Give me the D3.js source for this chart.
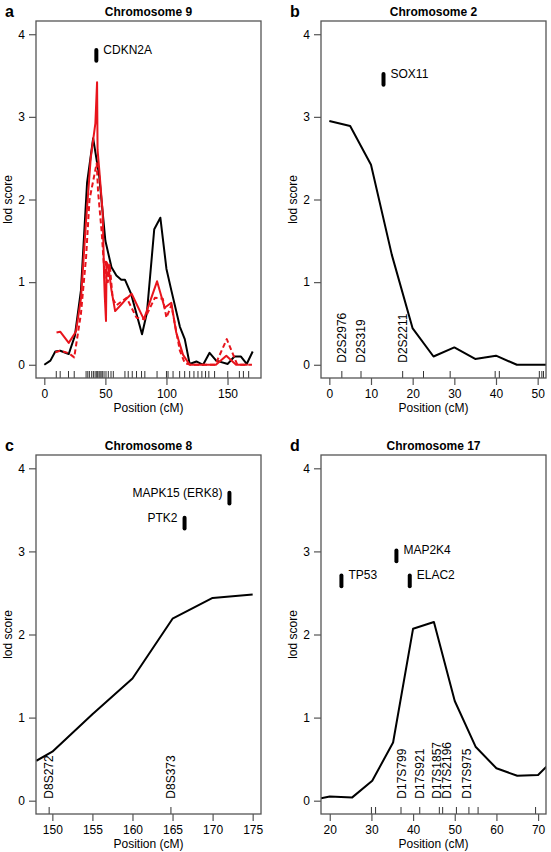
<!DOCTYPE html>
<html><head><meta charset="utf-8">
<script src="https://cdn.jsdelivr.net/npm/d3@7"></script>
<style>
body{margin:0;background:#fff}
svg{display:block}
text{font-family:"Liberation Sans",Arial,Helvetica,sans-serif;fill:#000}
</style>
</head><body>
<svg id="chart" width="551" height="852"></svg>
<script>
// ---------- DATA ----------
const lodTicks = [0, 1, 2, 3, 4];

// Chromosome 9 (panel a)
const chr9XTicks = [0, 50, 100, 150];
const chr9Black = [[0,0],[5,0.05],[9,0.16],[13,0.17],[20,0.13],[25,0.35],[30,0.9],[35,2.2],[40,2.74],[45,2.28],[50,1.5],[55,1.18],[59,1.08],[63,1.03],[66,1.03],[71,0.86],[80,0.37],[84,0.63],[90,1.64],[95,1.78],[100,1.16],[104,0.9],[111,0.46],[115,0.31],[119,0.01],[124.5,0.04],[130,0],[135.3,0.145],[140.7,0.05],[150.2,0.01],[155.6,0.1],[161,0.1],[165.7,0.01],[170.6,0.16]];
const chr9RedSolid = [[10,0.39],[13,0.40],[20,0.265],[24.5,0.37],[26,0.41],[30,0.8],[34,1.7],[38,2.5],[41.8,2.92],[43.2,3.42],[43.6,2.6],[45,2.36],[47.8,1.84],[49,1.04],[49.5,0.83],[50.5,0.53],[51,1.24],[52.4,1.2],[55,0.9],[58,0.65],[63,0.73],[66,0.78],[71.5,0.86],[81.5,0.55],[92.3,1.01],[98.5,0.69],[104,0.75],[108,0.39],[113.6,0.12],[119,0],[140.5,0],[149,0.11],[157,0],[166.5,0]];
const chr9RedDashed = [[9,0.15],[13,0.17],[20,0.14],[24.5,0.09],[30,0.62],[34.2,1.3],[37,2.0],[42.9,2.44],[44,2.1],[47,1.6],[49.5,1.05],[50.5,1.26],[52,1.0],[53.5,1.22],[56,0.8],[59,0.72],[67.4,0.81],[75.5,0.57],[82,0.55],[90.5,0.81],[97,0.8],[100,0.57],[104,0.72],[111,0.17],[115,0.02],[120,0],[140,0],[149.4,0.31],[158,0],[170,0]];
const chr9Markers = [9.8,13,19.8,24.5,34.2,35.6,36.9,38.8,40.2,41.6,42.9,43.7,44.8,45.6,46.5,47.5,48.9,50.5,52.4,54.6,56.5,66,68.7,72,75.5,79.6,82.3,92.3,100,101.3,105.4,110.8,114.9,119,122.5,125.8,129,132,134.7,139.4,150.2,159.7,163,167.3];
const chr9MarkerNames = [];
const chr9Genes = [{name:"CDKN2A", pos:42.6, lod:3.745, side:"right"}];

// Chromosome 2 (panel b)
const chr2XTicks = [0, 10, 20, 30, 40, 50];
const chr2Lod = [[0,2.95],[5,2.89],[10,2.42],[15,1.33],[20,0.44],[25,0.1],[30,0.21],[35,0.07],[40,0.11],[45,0],[55,0]];
const chr2Markers = [3.0,7.6,17.6,22.6,29,39.8,40.8,50.4,51,51.4];
const chr2MarkerNames = [{name:"D2S2976", pos:3.0},{name:"D2S319", pos:7.6},{name:"D2S2211", pos:17.6}];
const chr2Genes = [{name:"SOX11", pos:13, lod:3.455, side:"right"}];

// Chromosome 8 (panel c)
const chr8XTicks = [150, 155, 160, 165, 170, 175];
const chr8Lod = [[148,0.48],[150,0.59],[155,1.04],[160,1.47],[165,2.19],[170,2.44],[175,2.48]];
const chr8Markers = [149.6,164.8];
const chr8MarkerNames = [{name:"D8S272", pos:149.6},{name:"D8S373", pos:164.8}];
const chr8Genes = [{name:"MAPK15 (ERK8)", pos:172.1, lod:3.64, side:"left"},{name:"PTK2", pos:166.5, lod:3.34, side:"left"}];

// Chromosome 17 (panel d)
const chr17XTicks = [20, 30, 40, 50, 60, 70];
const chr17Lod = [[17.9,0.03],[20,0.05],[25.4,0.04],[30.2,0.24],[35.2,0.7],[40,2.07],[45,2.15],[50,1.2],[55,0.65],[60,0.39],[65,0.3],[70,0.31],[72,0.41]];
const chr17Markers = [30,31,37.1,41.6,46.3,47.1,50.4,53.4,55.6,69.4];
const chr17MarkerNames = [{name:"D17S799", pos:37.3},{name:"D17S921", pos:41.6},{name:"D17S1857", pos:45.8},{name:"D17S2196", pos:48.0},{name:"D17S975", pos:52.9}];
const chr17Genes = [{name:"TP53", pos:22.8, lod:2.645, side:"right"},{name:"MAP2K4", pos:36, lod:2.945, side:"right"},{name:"ELAC2", pos:39.2, lod:2.645, side:"right"}];

// ---------- DRAWING ----------
const RED = "#e8141c";
const svg = d3.select("#chart");

const panels = [
  {letter:"a", title:"Chromosome 9", box:[36,261,21,378], xDomain:[-6.8,177.4], xTicks:chr9XTicks,
   lines:[{data:chr9Black,color:"#000"},{data:chr9RedSolid,color:RED},{data:chr9RedDashed,color:RED,dash:"5,3"}],
   rug:chr9Markers, names:chr9MarkerNames, genes:chr9Genes},
  {letter:"b", title:"Chromosome 2", box:[321,546,21,378], xDomain:[-2,52], xTicks:chr2XTicks,
   lines:[{data:chr2Lod,color:"#000"}], rug:chr2Markers, names:chr2MarkerNames, genes:chr2Genes},
  {letter:"c", title:"Chromosome 8", box:[36,261,455,814], xDomain:[147.96,176.04], xTicks:chr8XTicks,
   lines:[{data:chr8Lod,color:"#000"}], rug:chr8Markers, names:chr8MarkerNames, genes:chr8Genes},
  {letter:"d", title:"Chromosome 17", box:[321,546,455,814], xDomain:[17.9,71.9], xTicks:chr17XTicks,
   lines:[{data:chr17Lod,color:"#000"}], rug:chr17Markers, names:chr17MarkerNames, genes:chr17Genes}
];

const defs = svg.append("defs");

panels.forEach(p => {
  const [x0, x1, y0, y1] = p.box;
  const x = d3.scaleLinear().domain(p.xDomain).range([x0, x1]);
  const y = d3.scaleLinear().domain([-0.16, 4.16]).range([y1, y0]);
  const g = svg.append("g");
  const clipId = "clip-" + p.letter;
  defs.append("clipPath").attr("id", clipId).append("rect")
    .attr("x", x0).attr("y", y0).attr("width", x1 - x0).attr("height", y1 - y0);

  // marker labels (rotated)
  g.selectAll(null).data(p.names).join("text")
    .attr("transform", d => `translate(${x(d.pos)},${y(0) - 2}) rotate(-90)`)
    .attr("dy", "0.35em")
    .attr("text-anchor", "start")
    .style("font-size", "12px")
    .text(d => d.name);

  // lines
  const line = d3.line().x(d => x(d[0])).y(d => y(d[1]));
  const lg = g.append("g").attr("clip-path", `url(#${clipId})`);
  p.lines.forEach(l => {
    lg.append("path").datum(l.data)
      .attr("d", line)
      .attr("fill", "none")
      .attr("stroke", l.color)
      .attr("stroke-width", 2)
      .attr("stroke-linejoin", "round")
      .attr("stroke-dasharray", l.dash || null);
  });

  // rug
  g.selectAll(null).data(p.rug).join("line")
    .attr("x1", d => x(d)).attr("x2", d => x(d))
    .attr("y1", y1).attr("y2", y1 - 7)
    .attr("stroke", "#333").attr("stroke-width", 1);

  // genes
  g.selectAll(null).data(p.genes).join("line")
    .attr("x1", d => x(d.pos)).attr("x2", d => x(d.pos))
    .attr("y1", d => y(d.lod + 0.065)).attr("y2", d => y(d.lod - 0.065))
    .attr("stroke", "#000").attr("stroke-width", 4).attr("stroke-linecap", "round");
  g.selectAll(null).data(p.genes).join("text")
    .attr("x", d => x(d.pos) + (d.side === "right" ? 7 : -7))
    .attr("y", d => y(d.lod + 0.07))
    .attr("dy", "0.35em")
    .attr("text-anchor", d => d.side === "right" ? "start" : "end")
    .style("font-size", "12px")
    .text(d => d.name);

  // axes
  const ya = g.append("g").attr("transform", `translate(${x0},0)`)
    .call(d3.axisLeft(y).tickValues(lodTicks).tickSize(7).tickPadding(4).tickFormat(d3.format("d")));
  const xa = g.append("g").attr("transform", `translate(0,${y1})`)
    .call(d3.axisBottom(x).tickValues(p.xTicks).tickSize(7).tickPadding(4).tickFormat(d3.format("d")));
  [ya, xa].forEach(a => {
    a.select(".domain").remove();
    a.selectAll(".tick line").attr("stroke", "#555").attr("stroke-width", 1.2);
    a.selectAll(".tick text").style("font-size", "12px").attr("fill", "#000")
      .style("font-family", "'Liberation Sans',Arial,sans-serif");
  });

  // box
  g.append("rect").attr("x", x0).attr("y", y0).attr("width", x1 - x0).attr("height", y1 - y0)
    .attr("fill", "none").attr("stroke", "#555").attr("stroke-width", 1.3);

  // titles & labels
  g.append("text").attr("x", (x0 + x1) / 2).attr("y", y0 - 5)
    .attr("text-anchor", "middle").style("font-size", "12px").style("font-weight", "bold")
    .text(p.title);
  g.append("text").attr("x", x0 - 31).attr("y", y0 - 4)
    .style("font-size", "16px").style("font-weight", "bold").text(p.letter);
  g.append("text").attr("x", (x0 + x1) / 2).attr("y", y1 + 34)
    .attr("text-anchor", "middle").style("font-size", "12px").text("Position (cM)");
  g.append("text").attr("transform", `translate(${x0 - 28},${(y0 + y1) / 2}) rotate(-90)`)
    .attr("dy", "0.35em")
    .attr("text-anchor", "middle").style("font-size", "12px").text("lod score");
});
</script>
</body></html>
